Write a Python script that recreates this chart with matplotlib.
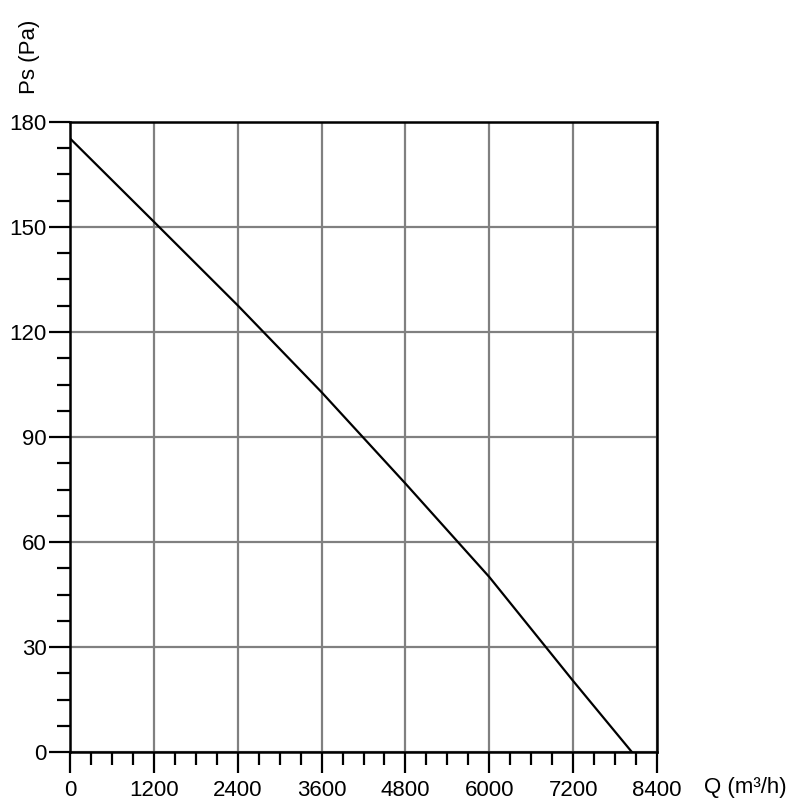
import matplotlib.pyplot as plt
from matplotlib.ticker import MultipleLocator

plt.rcParams["font.family"] = ["Liberation Sans", "DejaVu Sans"]

# values at the grid lines
flow = [0, 1200, 2400, 3600, 4800, 6000, 7200, 8040]
pressure = [175.3, 151.5, 127.6, 102.8, 76.7, 50.0, 20.3, 0]
x_ticks = [0, 1200, 2400, 3600, 4800, 6000, 7200, 8400]
y_ticks = [0, 30, 60, 90, 120, 150, 180]

fig = plt.figure(figsize=(8.04, 8.02), dpi=100)
ax = fig.add_axes([0.0871, 0.0623, 0.7301, 0.7856])

ax.plot(flow, pressure, color="black", lw=1.6, zorder=3)

ax.set_xlim(0, 8400)
ax.set_ylim(0, 180)
ax.set_xticks(x_ticks)
ax.set_yticks(y_ticks)
ax.xaxis.set_minor_locator(MultipleLocator(300))
ax.yaxis.set_minor_locator(MultipleLocator(7.5))

ax.grid(True, which="major", color="#808080", lw=1.6)
ax.set_axisbelow(True)
for s in ax.spines.values():
    s.set_linewidth(1.8)
    s.set_color("black")
    s.set_zorder(4)

ax.tick_params(which="major", length=15, width=1.6, labelsize=16, pad=5)
ax.tick_params(which="minor", length=9.5, width=1.6)
ax.tick_params(axis="y", which="major", pad=2)

ax.text(1.08, -0.057, "Q (m³/h)", transform=ax.transAxes, fontsize=16,
        ha="left", va="center")
fig.text(0.037, 0.929, "Ps (Pa)", rotation=90, fontsize=16,
         ha="center", va="center")

plt.savefig("out.png", dpi=100)
